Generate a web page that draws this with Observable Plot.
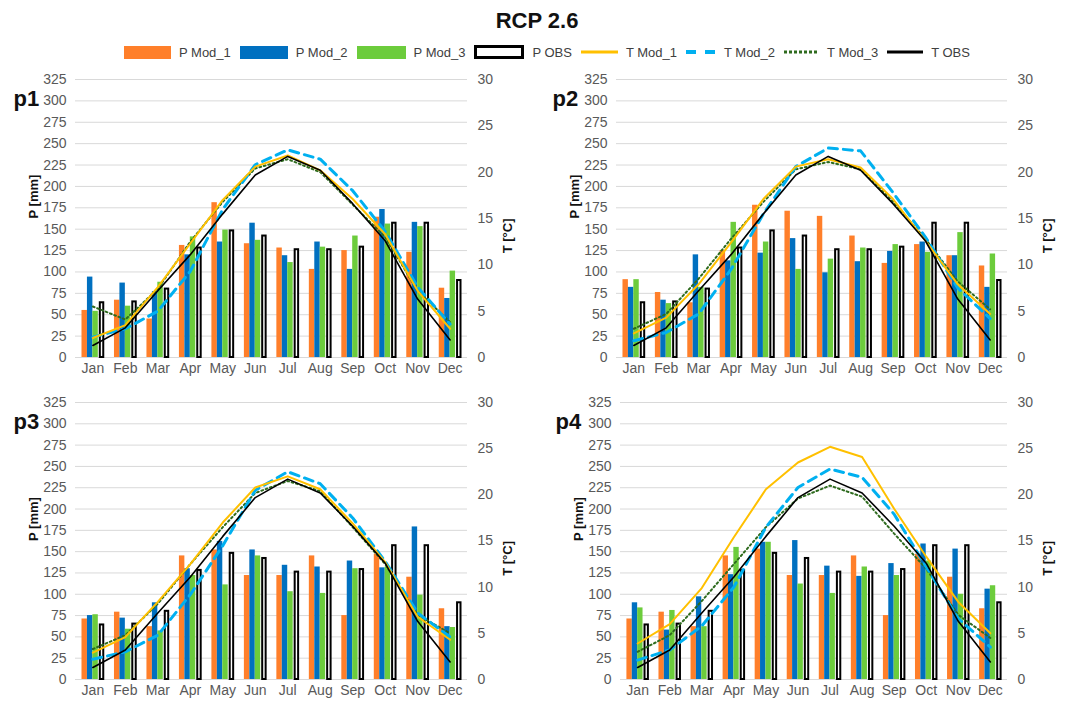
<!DOCTYPE html>
<html><head><meta charset="utf-8">
<script src="https://cdn.jsdelivr.net/npm/d3@7"></script>
<script src="https://cdn.jsdelivr.net/npm/@observablehq/plot@0.6"></script>
<style>
body{margin:0;background:#fff;font-family:"Liberation Sans",Arial,sans-serif;}
#wrap{position:relative;width:1074px;height:702px;overflow:hidden;background:#fff;}
#title{position:absolute;left:0;width:1074px;top:8px;text-align:center;font-weight:bold;font-size:22px;color:#111;line-height:26px;}
#legend{position:absolute;left:124px;top:44px;height:16px;display:flex;align-items:center;font-size:13px;color:#404040;white-space:nowrap;}
.item{display:flex;align-items:center;margin-right:9px;}
.sw{margin-right:8px;display:block;}
.panel{position:absolute;}
.panel svg{position:absolute;left:0;top:0;}
</style></head><body>
<div id="wrap">
<div id="title">RCP 2.6</div>
<div id="legend"></div>
</div>
<script>
// ---- data ----
const months = ["Jan","Feb","Mar","Apr","May","Jun","Jul","Aug","Sep","Oct","Nov","Dec"];
const legendLabels = ["P Mod_1","P Mod_2","P Mod_3","P OBS","T Mod_1","T Mod_2","T Mod_3","T OBS"];
const panelNames = ["p1","p2","p3","p4"];
const pTicks = [0,25,50,75,100,125,150,175,200,225,250,275,300,325];
const tTicks = [0,5,10,15,20,25,30];

const pObs = [64,65,80,128,148,142,126,126,129,157,157,90];
const tObs = [1.3,3.2,7.2,11.1,15.5,19.7,21.7,20.2,16.6,12.6,6.3,1.9];

const p1Mod1 = [55,67,45,131,181,133,128,103,125,164,123,81];
const p1Mod2 = [94,87,77,120,135,157,119,135,103,173,158,69];
const p1Mod3 = [54,60,88,141,149,137,111,129,142,156,153,101];
const t1Mod1 = [2.1,3.5,7.6,12.3,17.0,20.6,21.8,20.2,17.1,13.3,7.2,3.1];
const t1Mod2 = [2.2,3.1,5.0,9.3,16.0,20.8,22.4,21.4,18.0,13.6,7.6,3.6];
const t1Mod3 = [5.5,4.1,7.4,12.5,16.8,20.4,21.4,20.0,16.5,13.0,7.2,3.8];

const p2Mod1 = [91,76,64,125,178,171,165,142,110,132,119,107];
const p2Mod2 = [82,67,120,113,122,139,99,112,124,135,119,82];
const p2Mod3 = [91,63,82,158,135,103,115,128,132,123,146,121];
const t2Mod1 = [2.6,4.3,7.9,12.4,17.1,20.6,21.4,20.5,17.1,12.6,7.9,4.7];
const t2Mod2 = [1.8,2.7,4.7,9.5,15.5,20.6,22.6,22.3,17.8,13.0,7.5,4.2];
const t2Mod3 = [3.1,4.7,8.5,12.8,16.8,20.3,21.1,20.3,16.8,12.8,8.2,5.2];

const p3Mod1 = [71,79,62,145,152,122,122,145,75,147,120,83];
const p3Mod2 = [75,72,90,130,162,152,134,132,139,131,179,62];
const p3Mod3 = [76,59,57,122,111,145,103,101,130,132,99,61];
const t3Mod1 = [2.9,4.6,8.4,12.5,17.0,20.8,22.0,20.6,16.9,12.7,6.8,4.3];
const t3Mod2 = [2.2,3.0,4.8,9.2,14.5,20.5,22.5,21.2,17.5,12.8,7.2,4.6];
const t3Mod3 = [3.3,4.8,8.2,12.5,16.5,20.2,21.5,20.4,16.5,12.5,7.0,5.0];

const p4Mod1 = [71,79,62,145,153,122,122,145,75,147,120,83];
const p4Mod2 = [90,58,97,123,161,163,133,121,136,159,153,106];
const p4Mod3 = [84,81,62,155,161,112,101,132,122,139,100,110];
const t4Mod1 = [3.9,6.0,9.9,15.4,20.6,23.5,25.2,24.1,18.5,13.3,8.4,5.0];
const t4Mod2 = [2.1,3.2,5.8,10.0,16.5,20.8,22.8,21.9,17.9,12.2,6.6,3.5];
const t4Mod3 = [3.0,4.8,8.5,12.5,16.5,19.6,21.0,19.8,15.8,12.0,7.0,4.5];

// ---- styles ----
const C = {p1:"#FF7F2A", p2:"#0070C0", p3:"#6CCC3C", t1:"#FFC000", t2:"#00B0F0", t3:"#2E6B1E", obs:"#000000"};
const PI = 0.33, PO = 0.2;

// ---- legend ----
const legend = document.getElementById("legend");
const swatches = [
  `<svg class="sw" width="47" height="13"><rect width="47" height="13" fill="${C.p1}"/></svg>`,
  `<svg class="sw" width="48" height="13"><rect width="48" height="13" fill="${C.p2}"/></svg>`,
  `<svg class="sw" width="49" height="13"><rect width="49" height="13" fill="${C.p3}"/></svg>`,
  `<svg class="sw" width="50" height="14"><rect x="1.5" y="1.5" width="47" height="11" fill="#fff" stroke="#000" stroke-width="3"/></svg>`,
  `<svg class="sw" width="37" height="10"><line x1="0" x2="37" y1="5" y2="5" stroke="${C.t1}" stroke-width="3"/></svg>`,
  `<svg class="sw" width="30" height="10"><line x1="0" x2="30" y1="5" y2="5" stroke="${C.t2}" stroke-width="4" stroke-dasharray="10,9"/></svg>`,
  `<svg class="sw" width="35" height="10"><line x1="0" x2="35" y1="5" y2="5" stroke="${C.t3}" stroke-width="3" stroke-dasharray="3,2"/></svg>`,
  `<svg class="sw" width="36" height="10"><line x1="0" x2="36" y1="5" y2="5" stroke="#000" stroke-width="3"/></svg>`
];
legendLabels.forEach((lab, i) => {
  const d = document.createElement("div");
  d.className = "item";
  d.innerHTML = swatches[i] + `<span>${lab}</span>`;
  legend.appendChild(d);
});

// ---- panels ----
const cfgs = [
  {name:panelNames[0], left:0,   top:70,  width:537, height:310, ml:75, mr:70, mt:9,  mb:23, lx:-62, P:[p1Mod1,p1Mod2,p1Mod3], T:[t1Mod1,t1Mod2,t1Mod3]},
  {name:panelNames[1], left:537, top:70,  width:537, height:310, ml:79, mr:67, mt:9,  mb:23, lx:-64, P:[p2Mod1,p2Mod2,p2Mod3], T:[t2Mod1,t2Mod2,t2Mod3]},
  {name:panelNames[2], left:0,   top:380, width:537, height:322, ml:75, mr:70, mt:22, mb:23, lx:-62, P:[p3Mod1,p3Mod2,p3Mod3], T:[t3Mod1,t3Mod2,t3Mod3]},
  {name:panelNames[3], left:537, top:380, width:537, height:322, ml:83, mr:67, mt:22, mb:23, lx:-65, P:[p4Mod1,p4Mod2,p4Mod3], T:[t4Mod1,t4Mod2,t4Mod3]}
];

const wrap = document.getElementById("wrap");
for (const cfg of cfgs) {
  const {name, left, top, width, height, ml, mr, mt, mb} = cfg;
  const rows = months.map((m, i) => ({
    month: m,
    p1: cfg.P[0][i], p2: cfg.P[1][i], p3: cfg.P[2][i], pObs: pObs[i],
    t1: cfg.T[0][i], t2: cfg.T[1][i], t3: cfg.T[2][i], tObs: tObs[i]
  }));
  const W = width - ml - mr;
  const step = W / (months.length - PI + 2 * PO);
  const q = step * (1 - PI) / 4;
  const common = {
    width, height, marginLeft: ml, marginRight: mr, marginTop: mt, marginBottom: mb,
    style: {background: "transparent", fontFamily: '"Liberation Sans", Arial, sans-serif', fontSize: "14px", color: "#595959", overflow: "visible"}
  };
  const bars = Plot.plot({
    ...common,
    x: {type: "band", domain: months, paddingInner: PI, paddingOuter: PO, round: false, axis: "bottom", tickSize: 0, tickPadding: 6, label: null},
    y: {domain: [0, 325], ticks: pTicks, axis: "left", tickSize: 0, tickPadding: 9, label: null},
    marks: [
      Plot.ruleY(pTicks, {stroke: "#d9d9d9", strokeWidth: 1}),
      Plot.barY(rows, {x: "month", y: "p1", fill: C.p1, insetLeft: 0, insetRight: 3 * q}),
      Plot.barY(rows, {x: "month", y: "p2", fill: C.p2, insetLeft: q, insetRight: 2 * q}),
      Plot.barY(rows, {x: "month", y: "p3", fill: C.p3, insetLeft: 2 * q, insetRight: q}),
      Plot.barY(rows, {x: "month", y: "pObs", fill: "white", stroke: C.obs, strokeWidth: 2, insetLeft: 3 * q + 2, insetRight: 0}),
      Plot.text(["P [mm]"], {text: d => d, frameAnchor: "left", rotate: -90, dx: -42, fontWeight: "bold", fontSize: 13, fill: "#111"})
    ]
  });
  const lines = Plot.plot({
    ...common,
    x: {type: "point", domain: months, padding: PO + (1 - PI) / 2, round: false, axis: null},
    y: {domain: [0, 30], ticks: tTicks, axis: "right", tickSize: 0, tickPadding: 10, label: null},
    marks: [
      Plot.lineY(rows, {x: "month", y: "t3", stroke: C.t3, strokeWidth: 2, strokeDasharray: "1.8,2.8"}),
      Plot.lineY(rows, {x: "month", y: "t2", stroke: C.t2, strokeWidth: 3, strokeDasharray: "9,6"}),
      Plot.lineY(rows, {x: "month", y: "t1", stroke: C.t1, strokeWidth: 2}),
      Plot.lineY(rows, {x: "month", y: "tObs", stroke: C.obs, strokeWidth: 1.6}),
      Plot.text(["T [°C]"], {text: d => d, frameAnchor: "right", rotate: -90, dx: 40, fontWeight: "bold", fontSize: 13, fill: "#111"}),
      Plot.text([name], {text: d => d, frameAnchor: "top-left", textAnchor: "start", dx: cfg.lx, dy: 11, fontWeight: "bold", fontSize: 22, fill: "#111"})
    ]
  });
  const div = document.createElement("div");
  div.className = "panel";
  div.style.left = left + "px";
  div.style.top = top + "px";
  div.style.width = width + "px";
  div.style.height = height + "px";
  div.appendChild(bars);
  div.appendChild(lines);
  wrap.appendChild(div);
}
</script>
</body></html>
